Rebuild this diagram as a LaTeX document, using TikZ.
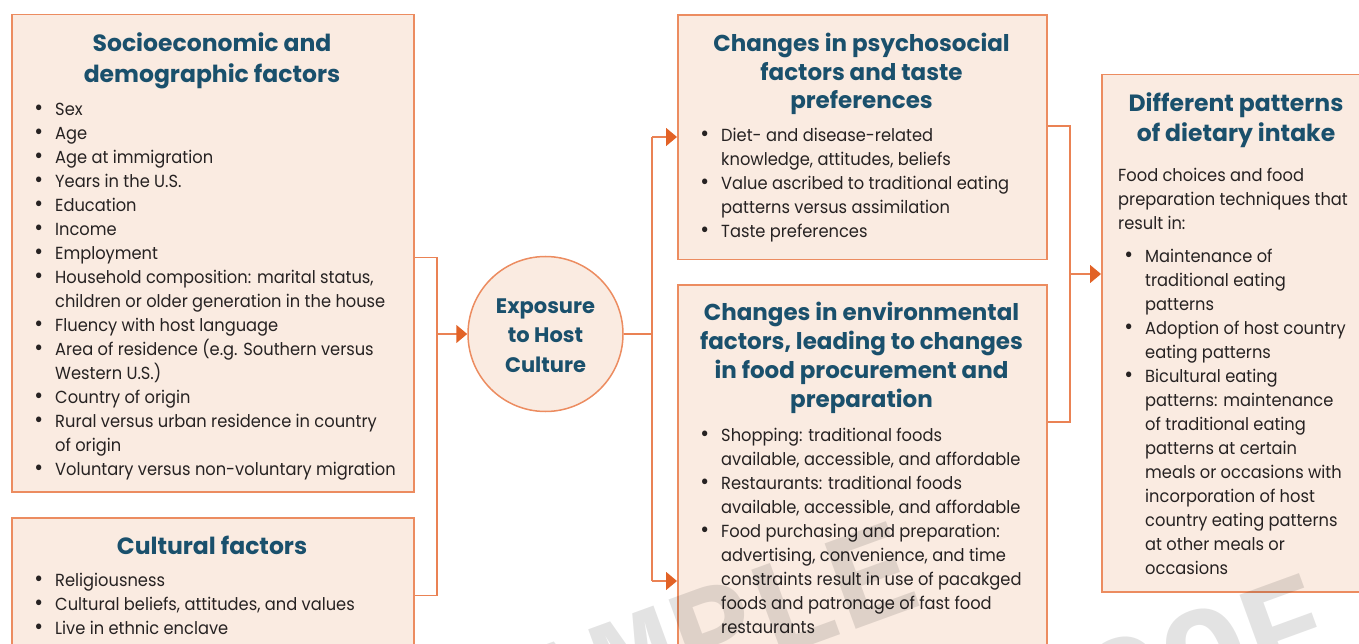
\documentclass[tikz,border=0pt]{standalone}
\usepackage{fontspec}
\setmainfont{Poppins}
\newfontfamily\bodyfont[FakeStretch=0.93]{Poppins}
\newfontfamily\wmfont{Liberation Mono}
\usetikzlibrary{arrows.meta,calc}

\definecolor{boxfill}{RGB}{250,235,225}
\definecolor{boxline}{RGB}{236,140,96}
\definecolor{linec}{RGB}{234,130,84}
\definecolor{tipc}{RGB}{226,98,38}
\definecolor{titlec}{RGB}{26,80,108}
\definecolor{bodyc}{RGB}{38,34,34}

% bullet cell and matching indent for wrapped lines
\newcommand{\bl}{\makebox[33pt][c]{\fontsize{23}{0}\selectfont\textbullet}}
\newcommand{\ct}{\hspace*{33pt}}

\begin{document}
\begin{tikzpicture}[x=1pt,y=-1pt,
  panel/.style={draw=boxline, fill=boxfill, line width=1.5pt, rectangle,
    inner sep=0pt, anchor=north west},
  hub/.style={circle, draw=boxline, fill=boxfill, line width=1.5pt,
    inner sep=0pt, minimum size=155pt},
  ttl/.style={text=titlec, align=center, inner sep=0pt, anchor=north},
  body/.style={text=bodyc, font=\bodyfont\fontsize{17.5}{24}\selectfont, align=left,
    inner sep=0pt, anchor=north west},
  conn/.style={draw=linec, line width=1.5pt},
  feed/.style={conn, -{Triangle[length=11pt,width=18pt,color=tipc]}},
  wm/.style={font=\wmfont\bfseries\fontsize{138}{138}\selectfont,
    text=black, text opacity=0.11, inner sep=0pt, rotate=20},
]
\useasboundingbox (0,0) rectangle (1359,644);
\clip (0,0) rectangle (1359,644);

% ---- panels ----
\node[panel, minimum width=402pt, minimum height=477pt] (b1) at (11,14) {};
\node[panel, minimum width=402pt, minimum height=150pt] (b2) at (11,517) {};
\node[panel, minimum width=369pt, minimum height=244.5pt] (b3) at (677,14.5) {};
\node[panel, minimum width=369pt, minimum height=400pt] (b4) at (677,284) {};
\node[panel, minimum width=270pt, minimum height=517pt] (b5) at (1101,74) {};
\node[hub] (hub) at (545.5,334) {};

% ---- titles ----
\node[ttl, font=\bfseries\fontsize{23.5}{31}\selectfont] (t1) at (212,29.8)
  {\strut Socioeconomic and\\demographic factors};
\node[ttl, font=\bfseries\fontsize{23.5}{31}\selectfont] (t2) at (212,532.3)
  {\strut Cultural factors};
\node[ttl, font=\bfseries\fontsize{23}{28.3}\selectfont] (t3) at (861.5,31.9)
  {\strut Changes in psychosocial\\factors and taste\\preferences};
\node[ttl, font=\bfseries\fontsize{23}{29}\selectfont] (t4) at (861.5,300.4)
  {\strut Changes in environmental\\factors, leading to changes\\in food procurement and\\preparation};
\node[ttl, font=\bfseries\fontsize{23.5}{30}\selectfont] (t5) at (1236,90.7)
  {\strut Different patterns\\of dietary intake};
\node[ttl, font=\bfseries\fontsize{21}{29.5}\selectfont] (th) at (545.5,292.4)
  {\strut Exposure\\to Host\\Culture};

% ---- lists ----
\node[body] (l1) at (22,98.2) {\strut\bl Sex\\
\bl Age\\
\bl Age at immigration\\
\bl Years in the U.S.\\
\bl Education\\
\bl Income\\
\bl Employment\\
\bl Household composition: marital status,\\
\ct children or older generation in the house\\
\bl Fluency with host language\\
\bl Area of residence (e.g. Southern versus\\
\ct Western U.S.)\\
\bl Country of origin\\
\bl Rural versus urban residence in country\\
\ct of origin\\
\bl Voluntary versus non-voluntary migration};

\node[body] (l2) at (22,569.2) {\strut\bl Religiousness\\
\bl Cultural beliefs, attitudes, and values\\
\bl Live in ethnic enclave};

\node[body] (l3) at (688,124.7) {\strut\bl Diet- and disease-related\\
\ct knowledge, attitudes, beliefs\\
\bl Value ascribed to traditional eating\\
\ct patterns versus assimilation\\
\bl Taste preferences};

\node[body] (l4) at (688,424.7) {\strut\bl Shopping: traditional foods\\
\ct available, accessible, and affordable\\
\bl Restaurants: traditional foods\\
\ct available, accessible, and affordable\\
\bl Food purchasing and preparation:\\
\ct advertising, convenience, and time\\
\ct constraints result in use of pacakged\\
\ct foods and patronage of fast food\\
\ct restaurants};

\node[body] (l5a) at (1118,164.9) {\strut Food choices and food\\
preparation techniques that\\
result in:};

\node[body] (l5b) at (1112,245.9) {\strut\bl Maintenance of\\
\ct traditional eating\\
\ct patterns\\
\bl Adoption of host country\\
\ct eating patterns\\
\bl Bicultural eating\\
\ct patterns: maintenance\\
\ct of traditional eating\\
\ct patterns at certain\\
\ct meals or occasions with\\
\ct incorporation of host\\
\ct country eating patterns\\
\ct at other meals or\\
\ct occasions};

% ---- junction points ----
\coordinate (jl) at (437,334);
\coordinate (jr) at (652,334);
\coordinate (jrt) at (652,137);
\coordinate (jrb) at (652,581);
\coordinate (jm) at (1070,274);
\coordinate (jmt) at (1070,126);
\coordinate (jmb) at (1070,422);

% ---- connectors ----
\draw[conn] ([yshift=-4.5pt]b1.east) -| (jl) |- ([yshift=-2.5pt]b2.east);
\draw[feed] (jl) -- (hub.west);
\draw[conn] (hub.east) -- (jr);
\draw[conn] (jrt) -- (jrb);
\draw[feed] (jrt) -- (b3.west |- jrt);
\draw[feed] (jrb) -- (b4.west |- jrb);
\draw[conn] (b3.east |- jmt) -- (jmt) -- (jmb) -- (b4.east |- jmb);
\draw[feed] (jm) -- (b5.west |- jm);

% ---- watermark ----
\node[wm] (wm1) at (676,646) {SAMPLE};
\node[wm] (wm2) at (1128,684) {PROOF};
\end{tikzpicture}
\end{document}
